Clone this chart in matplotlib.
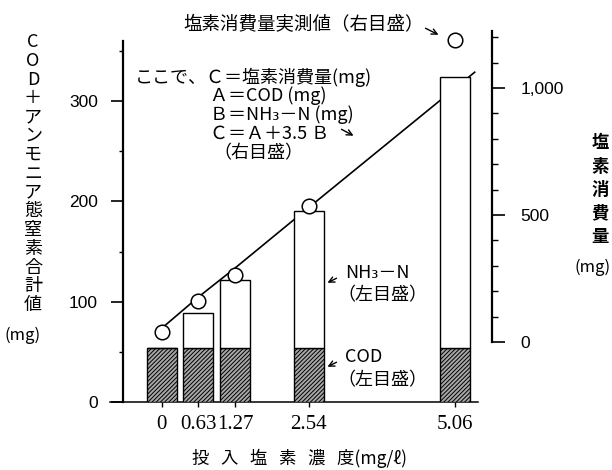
import matplotlib
matplotlib.use("Agg")
import matplotlib.pyplot as plt
from matplotlib.ticker import FixedLocator
import numpy as np

# data
dose = [0, 0.63, 1.27, 2.54, 5.06]          # 投入塩素濃度 (mg/l)
dose_labels = ["0", "0.63", "1.27", "2.54", "5.06"]
cod = [54, 54, 54, 54, 54]                 # COD (左目盛)
total = [54, 89, 122, 190, 324]            # COD + NH3-N (左目盛)
measured = [40, 161, 264, 535, 1189]       # 塩素消費量実測値 (右目盛)
line_end = 5.40                            # line runs a bit past the last bar

nh3 = np.array(total) - np.array(cod)
calc = np.array(cod) + 3.5 * nh3           # C = A + 3.5 B

plt.rcParams['font.family'] = ['Noto Sans CJK JP', 'DejaVu Sans']
plt.rcParams['hatch.linewidth'] = 0.7
JP = ['Noto Sans CJK JP', 'DejaVu Sans']

W, H = 612, 470
fig = plt.figure(figsize=(W / 100, H / 100), dpi=100)
ax = fig.add_axes([110 / W, 1 - 402 / H, 368 / W, 371 / H])

def px(x, y):
    return (x / W, 1 - y / H)

# right scale <-> left scale
def to_right(v):
    return (np.asarray(v) - 59.8) * 3.95

def to_left(v):
    return np.asarray(v) / 3.95 + 59.8

ax.set_xlim(-0.892, 5.457)
ax.set_ylim(0, 369.8)

ax.bar(dose, cod, width=0.52, color='#a8a8a8', edgecolor='black', hatch='////////',
       lw=1.0, zorder=3)
ax.bar(dose, nh3, bottom=cod, width=0.52, color='white', edgecolor='black',
       lw=1.0, zorder=3)

slope = (calc[-1] - calc[-2]) / (dose[-1] - dose[-2])
lx = dose + [line_end]
ly = list(calc) + [calc[-1] + slope * (line_end - dose[-1])]
ax.plot(lx, to_left(ly), color='black', lw=1.2, zorder=2)
ax.plot(dose, to_left(measured), 'o', ms=10.5, mfc='white', mec='black', mew=1.1,
        zorder=4, clip_on=False)

# axes styling
for s in ['top', 'right']:
    ax.spines[s].set_visible(False)
ax.spines['left'].set_position(('data', -0.667))
ax.spines['left'].set_bounds(0, 360)
ax.spines['left'].set_linewidth(1.6)
ax.spines['bottom'].set_linewidth(1.1)

ax.set_yticks([0, 100, 200, 300])
ax.set_yticklabels(['0', '100', '200', '300'], family='Liberation Sans', fontsize=12.5)
ax.yaxis.set_minor_locator(FixedLocator([50, 150, 250, 350]))
ax.tick_params(axis='y', which='major', length=9, width=1.2, pad=9)
ax.tick_params(axis='y', which='minor', length=3, width=1.0)

ax.set_xticks(dose)
ax.set_xticklabels(dose_labels, family='Liberation Serif', fontsize=15)
ax.tick_params(axis='x', length=3.6, width=1.0, pad=6)

sec = ax.secondary_yaxis(1.038, functions=(to_right, to_left))
sec.spines['right'].set_bounds(0, 1225)
sec.spines['right'].set_linewidth(1.6)
sec.set_yticks([0, 500, 1000])
sec.set_yticklabels(['0', '500', '1,000'], family='Liberation Sans', fontsize=12.5)
sec.yaxis.set_minor_locator(FixedLocator([100, 200, 300, 400, 600, 700, 800, 900, 1100, 1200]))
sec.tick_params(axis='y', which='major', length=9.4, width=1.2, pad=11)
sec.tick_params(axis='y', which='minor', length=4.3, width=1.0)

# axis titles
left_label = "COD＋アンモニア態窒素合計値"
for i, ch in enumerate(left_label):
    fig.text(*px(33, 42 + 18.8 * i), ch, ha='center', va='center', fontsize=13, family=JP)
fig.text(*px(23, 335), "(mg)", ha='center', va='center', fontsize=12, family=JP)

right_label = "塩素消費量"
for i, ch in enumerate(right_label):
    fig.text(*px(600, 143 + 23.5 * i), ch, ha='center', va='center', fontsize=12.5,
             family=JP, weight='bold')
fig.text(*px(593, 267), "(mg)", ha='center', va='center', fontsize=12, family=JP)

fig.text(*px(300, 458), "投   入   塩   素   濃   度(mg/ℓ)", ha='center', va='center',
         fontsize=12.5, family=JP)

# annotations
fig.text(*px(304, 25), "塩素消費量実測値（右目盛）", ha='center', va='center', fontsize=13.3,
         family=JP)
arrow = dict(arrowstyle='->', lw=1.0, color='black')
ax.annotate('', xy=px(441, 36), xytext=px(423, 27), xycoords='figure fraction',
            textcoords='figure fraction', arrowprops=arrow)

fig.text(*px(135, 77), "ここで、Ｃ＝塩素消費量(mg)", ha='left', va='center', fontsize=13, family=JP)
fig.text(*px(210, 96), "Ａ＝COD (mg)", ha='left', va='center', fontsize=13, family=JP)
fig.text(*px(210, 115), "Ｂ＝NH₃－N (mg)", ha='left', va='center', fontsize=13, family=JP)
fig.text(*px(210, 134), "Ｃ＝Ａ＋3.5 Ｂ", ha='left', va='center', fontsize=13, family=JP)
fig.text(*px(213, 153), "（右目盛）", ha='left', va='center', fontsize=13, family=JP)
ax.annotate('', xy=px(356, 137), xytext=px(339, 128), xycoords='figure fraction',
            textcoords='figure fraction', arrowprops=arrow)

fig.text(*px(345, 273), "NH₃－N", ha='left', va='center', fontsize=13, family=JP)
fig.text(*px(337, 295), "（左目盛）", ha='left', va='center', fontsize=13, family=JP)
ax.annotate('', xy=px(325, 284), xytext=px(339, 277), xycoords='figure fraction',
            textcoords='figure fraction', arrowprops=arrow)

fig.text(*px(345, 357), "COD", ha='left', va='center', fontsize=13, family=JP)
fig.text(*px(337, 380), "（左目盛）", ha='left', va='center', fontsize=13, family=JP)
ax.annotate('', xy=px(325, 368), xytext=px(339, 361), xycoords='figure fraction',
            textcoords='figure fraction', arrowprops=arrow)

fig.savefig("out.png", dpi=100)
